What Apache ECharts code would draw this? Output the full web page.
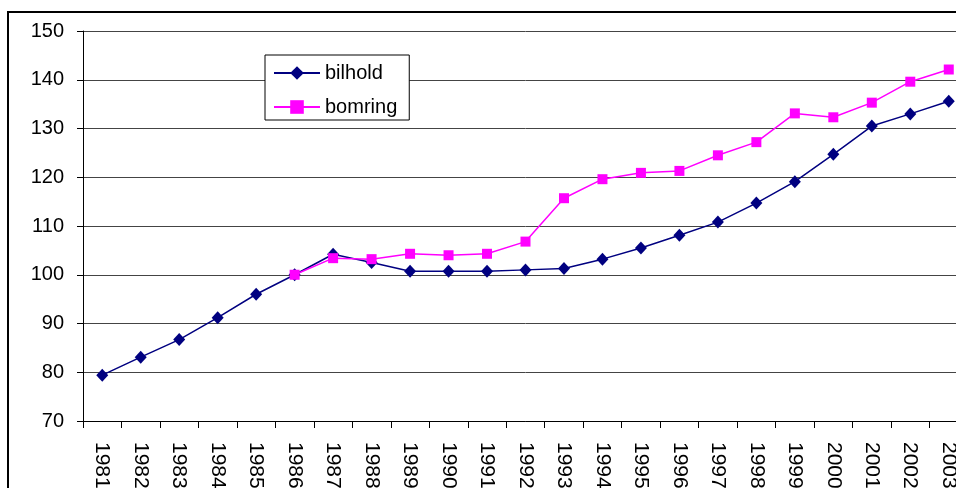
<!DOCTYPE html>
<html>
<head>
<meta charset="utf-8">
<script src="https://cdn.jsdelivr.net/npm/echarts@6/dist/echarts.min.js"></script>
<style>
  html, body { margin: 0; padding: 0; background: #fff; overflow: hidden; }
  #chart { width: 1000px; height: 488px; }
</style>
</head>
<body>
<div id="chart"></div>
<script>
// Index series, 1986 = 100
const years = ['1981','1982','1983','1984','1985','1986','1987','1988','1989','1990','1991','1992',
               '1993','1994','1995','1996','1997','1998','1999','2000','2001','2002','2003'];
const bilhold = [79.4, 83.1, 86.7, 91.2, 96.0, 100.0, 104.2, 102.5, 100.7, 100.7, 100.7, 101.0,
                 101.3, 103.2, 105.5, 108.1, 110.8, 114.7, 119.1, 124.7, 130.5, 133.0, 135.6];
const bomring = [null, null, null, null, null, 100.0, 103.4, 103.2, 104.3, 104.0, 104.3, 106.8,
                 115.7, 119.6, 120.9, 121.3, 124.5, 127.2, 133.1, 132.3, 135.3, 139.6, 142.1];
const yTicks = { min: 70, max: 150, step: 10 };

const chart = echarts.init(document.getElementById('chart'), null, { renderer: 'canvas' });
const font = 'Liberation Sans, Arial, sans-serif';

chart.setOption({
  animation: false,
  backgroundColor: '#fff',
  textStyle: { fontFamily: font },
  graphic: [{
    type: 'rect',
    shape: { x: 8, y: 12, width: 2000, height: 2000 },
    style: { fill: 'none', stroke: '#000', lineWidth: 2 },
    silent: true
  }],
  grid: { left: 83, top: 31, width: 885, height: 390, containLabel: false, outerBoundsMode: 'none' },
  legend: {
    orient: 'vertical',
    left: 265,
    top: 55,
    padding: [8, 12, 3, 8],
    borderColor: '#000',
    borderWidth: 1,
    backgroundColor: '#fff',
    itemWidth: 46,
    itemHeight: 17,
    itemGap: 14,
    textStyle: { fontSize: 20, color: '#000', lineHeight: 20, fontFamily: font },
    data: ['bilhold', 'bomring']
  },
  xAxis: {
    type: 'category',
    data: years,
    boundaryGap: true,
    axisLine: { lineStyle: { color: '#000', width: 1 } },
    axisTick: { show: true, length: 7, lineStyle: { color: '#000' } },
    axisLabel: { rotate: -90, fontSize: 21, color: '#000', margin: 21, interval: 0, fontFamily: font },
    splitLine: { show: false }
  },
  yAxis: {
    type: 'value',
    min: yTicks.min,
    max: yTicks.max,
    interval: yTicks.step,
    axisLine: { show: true, lineStyle: { color: '#000', width: 1 } },
    axisTick: { show: true, length: 6, lineStyle: { color: '#000' } },
    axisLabel: { fontSize: 20, color: '#000', margin: 19, fontFamily: font },
    splitLine: { show: true, lineStyle: { color: '#444', width: 1 } }
  },
  series: [
    {
      name: 'bilhold',
      type: 'line',
      data: bilhold,
      symbol: 'diamond',
      symbolSize: [12, 13],
      color: '#000080',
      lineStyle: { color: '#000080', width: 1.5 },
      itemStyle: { color: '#000080' },
      z: 2
    },
    {
      name: 'bomring',
      type: 'line',
      data: bomring,
      symbol: 'rect',
      symbolSize: 10,
      color: '#FF00FF',
      lineStyle: { color: '#FF00FF', width: 1.5 },
      itemStyle: { color: '#FF00FF' },
      z: 3
    }
  ]
});
</script>
</body>
</html>
